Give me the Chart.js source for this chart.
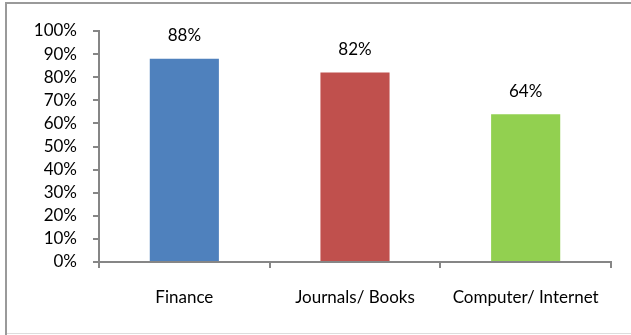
<!DOCTYPE html>
<html>
<head>
<meta charset="utf-8">
<script src="https://cdn.jsdelivr.net/npm/chart.js@4.4.1/dist/chart.umd.min.js"></script>
<style>
  html, body { margin: 0; padding: 0; background: #fff; }
  #wrap { width: 631px; height: 335px; position: relative; }
</style>
</head>
<body>
<div id="wrap"><canvas id="chart" width="631" height="335"></canvas></div>
<script>
// chart data
const categories = ['Finance', 'Journals/ Books', 'Computer/ Internet'];
const shares = [88, 82, 64];
const barColors = ['#4F81BD', '#C0504D', '#92D050'];

const axisGray = '#868686';
const fontFamily = 'Lato, "Open Sans", sans-serif';

// value labels above each bar
const valueLabels = {
    id: 'valueLabels',
    afterDatasetsDraw(chart) {
        const ctx = chart.ctx;
        const meta = chart.getDatasetMeta(0);
        ctx.save();
        ctx.font = '17px ' + fontFamily;
        ctx.fillStyle = '#000';
        ctx.textAlign = 'center';
        ctx.textBaseline = 'middle';
        meta.data.forEach((bar, i) => {
            ctx.fillText(shares[i] + '%', bar.x, bar.y - 23);
        });
        ctx.restore();
    }
};

// outer frame like the office chart box
const frame = {
    id: 'frame',
    afterDraw(chart) {
        const ctx = chart.ctx;
        ctx.save();
        ctx.fillStyle = '#9a9a9a';
        ctx.fillRect(5, 2, 2, 333);
        ctx.fillRect(5, 2, 626, 2);
        ctx.fillStyle = '#dddddd';
        ctx.fillRect(7, 333, 624, 1);
        ctx.restore();
    }
};

new Chart(document.getElementById('chart'), {
    type: 'bar',
    data: {
        labels: categories,
        datasets: [{
            data: shares,
            backgroundColor: barColors,
            borderWidth: 0,
            barPercentage: 0.405,
            categoryPercentage: 1
        }]
    },
    options: {
        responsive: false,
        animation: false,
        layout: { padding: { left: 10, right: 20, top: 31, bottom: 23 } },
        plugins: {
            legend: { display: false },
            tooltip: { enabled: false }
        },
        scales: {
            x: {
                grid: {
                    offset: true,
                    drawOnChartArea: false,
                    drawTicks: true,
                    tickLength: 6,
                    color: axisGray,
                    lineWidth: 2
                },
                border: { display: true, color: axisGray, width: 2 },
                ticks: {
                    color: '#000',
                    padding: 19,
                    font: { family: fontFamily, size: 17 },
                    maxRotation: 0
                },
                afterFit(scale) { scale.height = 50; }
            },
            y: {
                min: 0,
                max: 100,
                grid: {
                    drawOnChartArea: false,
                    drawTicks: true,
                    tickLength: 6,
                    color: axisGray,
                    lineWidth: 2
                },
                border: { display: true, color: axisGray, width: 2 },
                ticks: {
                    stepSize: 10,
                    autoSkip: false,
                    color: '#000',
                    padding: 16,
                    font: { family: fontFamily, size: 17, lineHeight: 1 },
                    callback: v => v + '%'
                },
                afterFit(scale) { scale.width = 89; }
            }
        }
    },
    plugins: [valueLabels, frame]
});
</script>
</body>
</html>
